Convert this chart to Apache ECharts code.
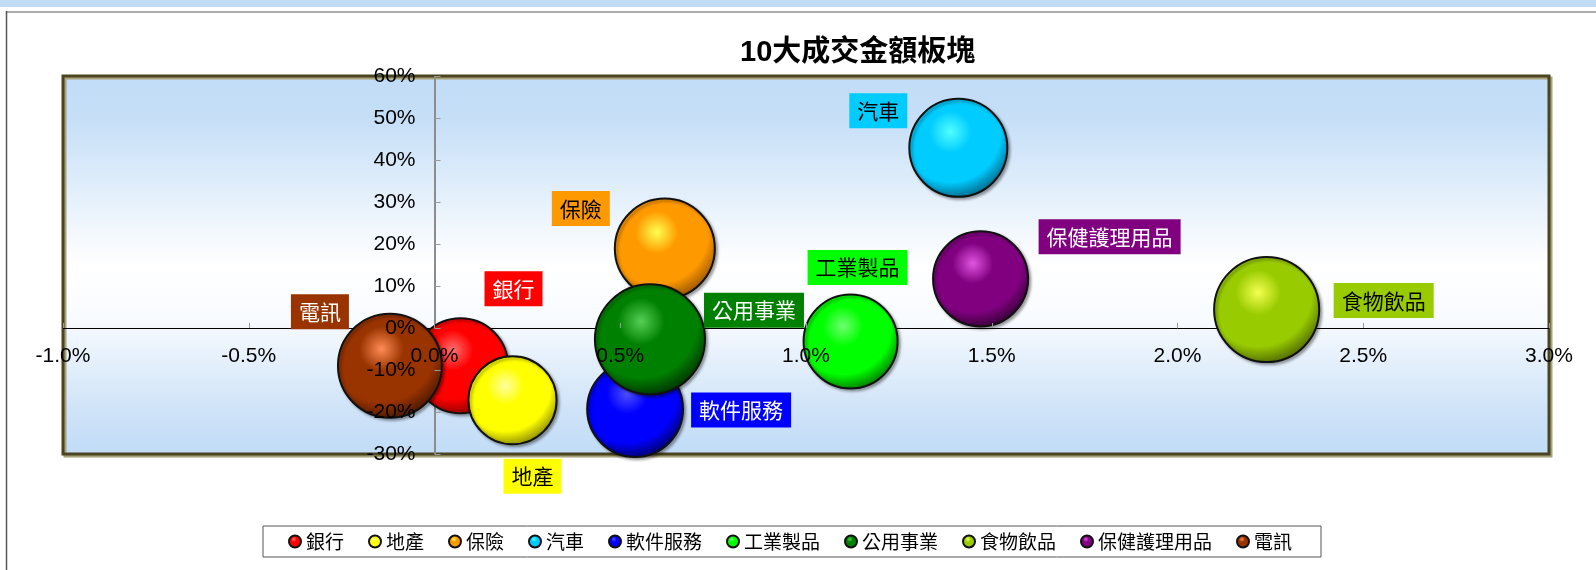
<!DOCTYPE html>
<html>
<head>
<meta charset="utf-8">
<script src="https://cdn.jsdelivr.net/npm/echarts@6/dist/echarts.min.js"></script>
<style>
html,body{margin:0;padding:0;background:#fff;}
#chart{width:1596px;height:570px;}
</style>
</head>
<body>
<div id="chart"></div>
<script>
// 板塊數據
var sectors = ['銀行', '地產', '保險', '汽車', '軟件服務', '工業製品', '公用事業', '食物飲品', '保健護理用品', '電訊'];
var xValues = [0.07, 0.21, 0.62, 1.41, 0.54, 1.12, 0.58, 2.24, 1.47, -0.12];   // 橫軸 %
var yValues = [-9.0, -17.2, 18.9, 42.9, -19.3, -3.2, -2.7, 4.4, 11.7, -9.0];   // 縱軸 %
var amounts = [22.6, 19.4, 25.0, 24.0, 23.0, 22.1, 30.3, 27.6, 22.6, 27.0];    // 成交金額 (氣泡大小)
var xRange = [-1, 3, 0.5];
var yRange = [-30, 60, 10];

// 顏色/標籤位置
var look = {
    '銀行':       {c: '#ff0000', hi: '#ff7070', dk: '#7a0000', txt: '#fff', off: [53, -77]},
    '地產':       {c: '#ffff00', hi: '#ffffa0', dk: '#7a7a00', txt: '#000', off: [20, 76]},
    '保險':       {c: '#ff9900', hi: '#ffff50', dk: '#8a4c00', txt: '#000', off: [-84, -40]},
    '汽車':       {c: '#00ccff', hi: '#50ffff', dk: '#005a78', txt: '#000', off: [-80, -37]},
    '軟件服務':   {c: '#0000ff', hi: '#5050ff', dk: '#000058', txt: '#fff', off: [106, 1]},
    '工業製品':   {c: '#00ff00', hi: '#70ff70', dk: '#006800', txt: '#000', off: [7, -74]},
    '公用事業':   {c: '#008000', hi: '#55d055', dk: '#002800', txt: '#fff', off: [104, -29]},
    '食物飲品':   {c: '#99cc00', hi: '#f4ff50', dk: '#455c00', txt: '#000', off: [117, -9]},
    '保健護理用品': {c: '#800080', hi: '#e055e0', dk: '#2a002a', txt: '#fff', off: [129, -42]},
    '電訊':       {c: '#993300', hi: '#ff8c55', dk: '#401500', txt: '#fff', off: [-70, -54]}
};

var cjk = '"Liberation Sans", "Noto Sans CJK TC", sans-serif';
var arial = '"Liberation Sans", Arial, sans-serif';

var grid = {left: 63, right: 47, top: 76, bottom: 116};
var gridW = 1596 - grid.left - grid.right;
var gridH = 570 - grid.top - grid.bottom;
// 座標軸移到 0 的位置 (標籤跟著走)
var xAxisShift = -gridH * (0 - yRange[0]) / (yRange[1] - yRange[0]);
var yAxisShift = -gridW * (0 - xRange[0]) / (xRange[1] - xRange[0]);

var myChart = echarts.init(document.getElementById('chart'));

var series = sectors.map(function (name, i) {
    var s = look[name];
    return {
        name: name,
        type: 'scatter',
        z: 2,
        data: [[xValues[i], yValues[i], amounts[i]]],
        symbolSize: function (val) { return 20 * Math.sqrt(val[2]); },
        itemStyle: {
            color: new echarts.graphic.RadialGradient(0.42, 0.34, 0.7, [
                {offset: 0, color: s.hi},
                {offset: 0.3, color: s.c},
                {offset: 0.72, color: s.c},
                {offset: 1, color: s.dk}
            ]),
            borderColor: '#111',
            borderWidth: 2,
            shadowColor: 'rgba(0,0,0,0.35)',
            shadowBlur: 3,
            shadowOffsetX: 2,
            shadowOffsetY: 2,
            opacity: 1
        },
        label: {
            show: true,
            position: 'inside',
            offset: s.off,
            formatter: '{a}',
            color: s.txt,
            backgroundColor: s.c,
            padding: [7, 8],
            fontSize: 21,
            lineHeight: 21,
            fontFamily: '"Noto Sans CJK TC", sans-serif'
        },
        emphasis: {disabled: true}
    };
});
// 零軸線放在氣泡後面
series.push({
    type: 'scatter',
    name: '_zero',
    data: [],
    silent: true,
    markLine: {
        z: 1,
        silent: true,
        symbol: 'none',
        animation: false,
        label: {show: false},
        data: [
            {xAxis: 0, lineStyle: {color: '#8c8c8c', width: 2, type: 'solid'}},
            {yAxis: 0, lineStyle: {color: '#000', width: 1, type: 'solid'}}
        ]
    }
});

myChart.setOption({
    animation: false,
    title: {
        text: '10大成交金額板塊',
        left: 735,
        top: 33,
        textStyle: {fontSize: 29, fontWeight: 'bold', color: '#000', fontFamily: cjk}
    },
    graphic: [
        {type: 'rect', shape: {x: 0, y: 0, width: 1596, height: 7}, style: {fill: '#c2dcf6'}, silent: true},
        {type: 'line', shape: {x1: 6, y1: 12, x2: 1596, y2: 12}, style: {stroke: '#acacac', lineWidth: 2}, silent: true},
        {type: 'line', shape: {x1: 6.5, y1: 11, x2: 6.5, y2: 570}, style: {stroke: '#555', lineWidth: 1.5}, silent: true}
    ],
    legend: {
        data: sectors,
        left: 263,
        top: 526,
        padding: [6, 29, 6, 25],
        itemGap: 24,
        itemWidth: 12,
        itemHeight: 12,
        icon: 'circle',
        borderColor: '#555',
        borderWidth: 1,
        textStyle: {fontSize: 19, lineHeight: 19, color: '#000', fontFamily: '"Noto Sans CJK TC", sans-serif'}
    },
    grid: {
        left: grid.left,
        right: grid.right,
        top: grid.top,
        bottom: grid.bottom,
        show: true,
        borderColor: '#4a4520',
        borderWidth: 3,
        shadowColor: '#a8a27a',
        shadowOffsetX: 2,
        shadowOffsetY: 2,
        backgroundColor: new echarts.graphic.LinearGradient(0, 0, 0, 1, [
            {offset: 0, color: '#c1dcf7'},
            {offset: 0.12, color: '#c6dff7'},
            {offset: 0.5, color: '#ffffff'},
            {offset: 0.64, color: '#f8fbff'},
            {offset: 0.88, color: '#cfe3f8'},
            {offset: 1, color: '#c1dcf7'}
        ])
    },
    xAxis: {
        type: 'value',
        min: xRange[0], max: xRange[1], interval: xRange[2],
        position: 'bottom',
        offset: xAxisShift,
        z: 10,
        axisLine: {show: true, onZero: false, lineStyle: {color: 'rgba(0,0,0,0)', width: 1}},
        axisTick: {show: true, inside: true, length: 5, lineStyle: {color: '#999'}},
        splitLine: {show: false},
        axisLabel: {
            margin: 18,
            fontSize: 21,
            lineHeight: 21,
            color: '#000',
            fontFamily: arial,
            formatter: function (v) { return v.toFixed(1) + '%'; }
        }
    },
    yAxis: {
        type: 'value',
        min: yRange[0], max: yRange[1], interval: yRange[2],
        position: 'left',
        offset: yAxisShift,
        z: 10,
        axisLine: {show: true, onZero: false, lineStyle: {color: 'rgba(0,0,0,0)', width: 2}},
        axisTick: {show: true, inside: true, length: 6, lineStyle: {color: '#999'}},
        splitLine: {show: false},
        axisLabel: {
            margin: 19,
            fontSize: 21,
            color: '#000',
            fontFamily: arial,
            formatter: function (v) { return v + '%'; }
        }
    },
    series: series
});
</script>
</body>
</html>
